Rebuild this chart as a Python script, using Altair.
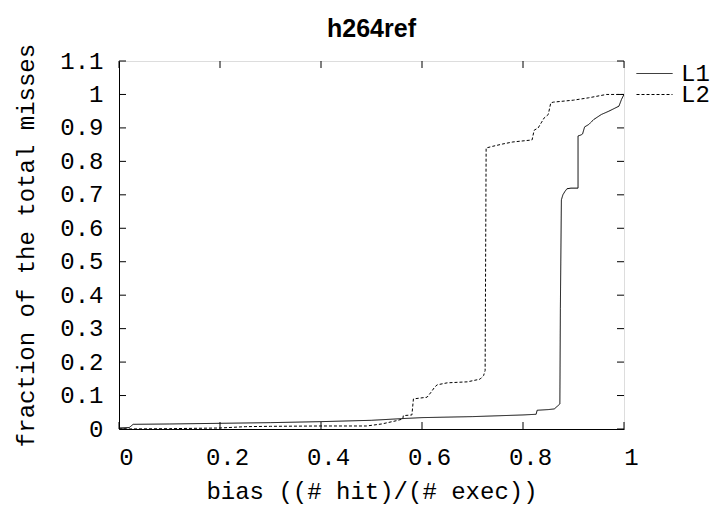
import altair as alt
import pandas as pd

# ---- data ----
l1_x = [0.0, 0.02, 0.028, 0.1, 0.2, 0.3, 0.4, 0.5, 0.56, 0.6, 0.7, 0.8, 0.826, 0.828,
        0.85, 0.862, 0.868, 0.871, 0.873, 0.874, 0.876, 0.879, 0.883, 0.887, 0.895,
        0.909, 0.909, 0.915, 0.918, 0.922, 0.93, 0.94, 0.955, 0.97, 0.99, 0.995, 1.0]
l1_y = [0.003, 0.004, 0.014, 0.015, 0.017, 0.019, 0.022, 0.026, 0.031, 0.034, 0.037,
        0.042, 0.044, 0.056, 0.058, 0.06, 0.068, 0.072, 0.075, 0.36, 0.685, 0.70, 0.71,
        0.718, 0.72, 0.72, 0.876, 0.879, 0.882, 0.903, 0.91, 0.925, 0.94, 0.95, 0.965,
        0.985, 1.0]

l2_x = [0.0, 0.1, 0.2, 0.25, 0.3, 0.4, 0.49, 0.52, 0.55, 0.562, 0.563, 0.58, 0.583,
        0.61, 0.618, 0.625, 0.63, 0.65, 0.69, 0.715, 0.722, 0.725, 0.727, 0.74, 0.76,
        0.78, 0.818, 0.822, 0.83, 0.836, 0.842, 0.85, 0.855, 0.86, 0.9, 0.93, 0.965, 1.0]
l2_y = [0.0, 0.001, 0.003, 0.007, 0.008, 0.009, 0.009, 0.015, 0.025, 0.03, 0.04, 0.042,
        0.09, 0.095, 0.11, 0.125, 0.132, 0.138, 0.141, 0.149, 0.16, 0.175, 0.84, 0.845,
        0.852, 0.858, 0.864, 0.893, 0.9, 0.915, 0.93, 0.94, 0.975, 0.977, 0.983, 0.99,
        1.0, 1.0]

series_names = ["L1", "L2"]
x_ticks = [0, 0.2, 0.4, 0.6, 0.8, 1]
y_ticks = [0, 0.1, 0.2, 0.3, 0.4, 0.5, 0.6, 0.7, 0.8, 0.9, 1, 1.1]

title_text = "h264ref"
x_title = "bias ((# hit)/(# exec))"
y_title = "fraction of the total misses"

# ---- layout ----
W, H = 505, 368
X0, X1, Y0, Y1 = 0.0, 1.0, 0.0, 1.1
TICK_PX = 7
MONO = "Liberation Mono"

df = pd.concat([
    pd.DataFrame({"x": l1_x, "y": l1_y, "series": series_names[0], "order": range(len(l1_x))}),
    pd.DataFrame({"x": l2_x, "y": l2_y, "series": series_names[1], "order": range(len(l2_x))}),
])

xs = alt.Scale(domain=[X0, X1], nice=False, zero=False)
ys = alt.Scale(domain=[Y0, Y1], nice=False, zero=False)

x_axis = alt.Axis(
    values=x_ticks, format="~g", title=x_title, grid=False, tickSize=0, ticks=False,
    labelPadding=16, labelOffset=7, labelFont=MONO, labelFontSize=24, labelColor="black",
    titleFont=MONO, titleFontSize=24, titleFontWeight="normal", titleColor="black",
    titleBaseline="alphabetic", titleY=69, domainColor="black", labelFlush=False)
y_axis = alt.Axis(
    values=y_ticks, format="~g", title=y_title, grid=False, tickSize=0, ticks=False,
    labelPadding=16, labelFont=MONO, labelFontSize=24, labelColor="black",
    titleFont=MONO, titleFontSize=24, titleFontWeight="normal", titleColor="black",
    titleBaseline="alphabetic", titleX=-86, domainColor="black", labelFlush=False)

dy_tick = TICK_PX * (Y1 - Y0) / H
dx_tick = TICK_PX * (X1 - X0) / W

tick_rows = []
for v in x_ticks:
    tick_rows.append({"x": v, "x2": v, "y": Y0, "y2": Y0 + dy_tick})
    tick_rows.append({"x": v, "x2": v, "y": Y1, "y2": Y1 - dy_tick})
for v in y_ticks:
    tick_rows.append({"x": X0, "x2": X0 + dx_tick, "y": v, "y2": v})
    tick_rows.append({"x": X1, "x2": X1 - dx_tick, "y": v, "y2": v})
ticks_df = pd.DataFrame(tick_rows)

lines = alt.Chart(df).mark_line(color="black", strokeWidth=1, clip=True).encode(
    x=alt.X("x:Q", scale=xs, axis=x_axis),
    y=alt.Y("y:Q", scale=ys, axis=y_axis),
    strokeDash=alt.StrokeDash("series:N", scale=alt.Scale(domain=series_names, range=[[1, 0], [3, 2]]),
                              legend=alt.Legend(title=None, orient="none", legendX=517, legendY=4,
                                                symbolType="stroke", symbolSize=1296,
                                                symbolStrokeColor="black", symbolStrokeWidth=1,
                                                labelFont=MONO, labelFontSize=24, labelColor="black",
                                                labelOffset=8, rowPadding=-4, clipHeight=17)),
    order="order:Q",
)

ticks = alt.Chart(ticks_df).mark_rule(color="black", strokeWidth=1).encode(
    x=alt.X("x:Q", scale=xs, axis=x_axis),
    x2="x2:Q",
    y=alt.Y("y:Q", scale=ys, axis=y_axis),
    y2="y2:Q",
)

chart = alt.layer(lines, ticks).properties(
    width=W, height=H,
    title=alt.TitleParams(title_text, font="Liberation Sans Narrow, Liberation Sans", fontSize=25,
                          fontWeight="bold", color="black", anchor="middle", frame="group",
                          baseline="alphabetic", offset=2, dy=21),
    autosize=alt.AutoSizeParams(type="none"),
    padding={"left": 119, "top": 61, "right": 96, "bottom": 77},
).configure_view(stroke="black", strokeWidth=1).configure(background="white")

chart.save("out.html", embed_options={"renderer": "svg", "actions": False})
